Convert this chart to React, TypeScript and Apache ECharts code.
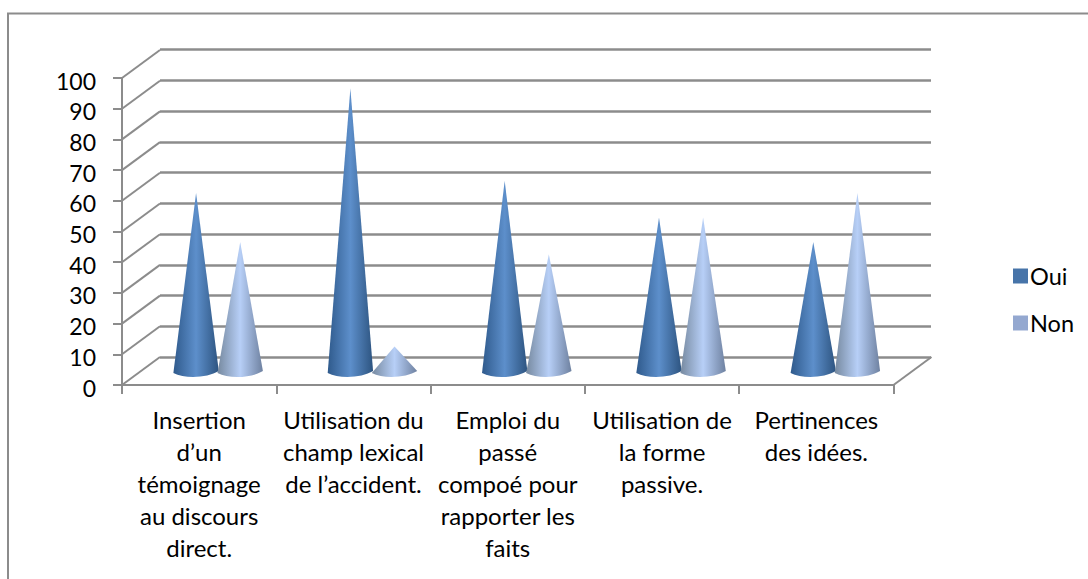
import React, { useEffect, useRef } from "react";
import * as echarts from "echarts";

const categories = [
  "Insertion\nd’un\ntémoignage\nau discours\ndirect.",
  "Utilisation du\nchamp lexical\nde l’accident.",
  "Emploi du\npassé\ncompoé pour\nrapporter les\nfaits",
  "Utilisation de\nla forme\npassive.",
  "Pertinences\ndes idées.",
];
const oui = [58, 92, 62, 50, 42];
const non = [42, 8, 38, 50, 58];
const yTicks = [0, 10, 20, 30, 40, 50, 60, 70, 80, 90, 100];

const FONT = "Lato";
const GREY = "#8c8c8c";
const DEPTH_X = 38;
const DEPTH_Y = 28;

const coneGradient = (edgeL: string, mid: string, edgeR: string) =>
  new echarts.graphic.LinearGradient(0, 0, 1, 0, [
    { offset: 0, color: edgeL },
    { offset: 0.5, color: mid },
    { offset: 1, color: edgeR },
  ]);

const coneSeries = (name: string, values: number[], side: number, legendColor: string, fill: any) => ({
  name,
  type: "custom",
  xAxisIndex: 0,
  yAxisIndex: 0,
  z: 5,
  itemStyle: { color: legendColor },
  encode: { x: 0, y: 1 },
  data: values.map((v, i) => [i, v]),
  renderItem: (_p: any, api: any) => {
    const band = api.size([1, 0])[0];
    const base = api.coord([api.value(0), 0]);
    const top = api.coord([api.value(0), api.value(1)]);
    const cx = base[0] + DEPTH_X / 2 + side * band * 0.143;
    const by = base[1] - DEPTH_Y / 2 + 1;
    const tipY = top[1] - DEPTH_Y / 2;
    const r = band * 0.147;
    const d = `M${cx} ${tipY}L${cx - r} ${by + 1}C${cx - r * 0.5} ${by + 7} ${cx + r * 0.5} ${by + 6} ${cx + r} ${by - 1}Z`;
    return { type: "path", shape: { pathData: d }, style: { fill } };
  },
});

export default function App() {
  const ref = useRef<HTMLDivElement>(null);
  useEffect(() => {
    const chart = echarts.init(ref.current!, null, { renderer: "svg" });
    chart.setOption({
      animation: false,
      backgroundColor: "#ffffff",
      textStyle: { fontFamily: FONT },
      graphic: [
        {
          type: "rect",
          z: 0,
          shape: { x: 8, y: 13.5, width: 1200, height: 700 },
          style: { fill: "none", stroke: GREY, lineWidth: 2 },
        },
      ],
      grid: [
        { left: 122, top: 78, width: 771.5, height: 307 },
        { left: 160, top: 49.5, width: 771, height: 307.5 },
      ],
      xAxis: [
        {
          type: "category",
          gridIndex: 0,
          data: categories,
          axisLine: { show: true, lineStyle: { color: GREY, width: 2 } },
          axisTick: { show: true, length: 9, alignWithLabel: false, lineStyle: { color: GREY, width: 2 } },
          axisLabel: { interval: 0, margin: 18, fontSize: 24, lineHeight: 32, color: "#000", fontFamily: FONT },
          splitLine: { show: false },
        },
        { type: "value", gridIndex: 1, show: false, min: 0, max: 1 },
      ],
      yAxis: [
        {
          type: "value",
          gridIndex: 0,
          min: 0,
          max: 100,
          interval: 10,
          axisLine: { show: true, lineStyle: { color: GREY, width: 2 } },
          axisTick: { show: true, length: 9, lineStyle: { color: GREY, width: 2 } },
          axisLabel: {
            fontSize: 23,
            margin: 26,
            color: "#000",
            fontFamily: FONT,
            verticalAlign: "top",
            padding: [-9, 0, 0, 0],
          },
          splitLine: { show: false },
        },
        {
          type: "value",
          gridIndex: 1,
          min: 0,
          max: 100,
          interval: 10,
          axisLine: { show: false },
          axisTick: { show: false },
          axisLabel: { show: false },
          splitLine: { show: true, lineStyle: { color: GREY, width: 2.5 } },
        },
      ],
      legend: {
        data: ["Oui", "Non"],
        orient: "vertical",
        left: 1008,
        top: 259,
        itemWidth: 15,
        itemHeight: 15,
        itemGap: 23,
        icon: "rect",
        textStyle: { fontSize: 23.5, color: "#000", fontFamily: FONT, padding: [0, 0, 0, -3] },
      },
      series: [
        {
          name: "walls",
          type: "custom",
          xAxisIndex: 0,
          yAxisIndex: 0,
          z: 1,
          silent: true,
          encode: { y: 0 },
          data: yTicks.map((v) => [v]),
          renderItem: (params: any, api: any) => {
            const y = api.coord([0, api.value(0)])[1];
            const x = params.coordSys.x;
            const style = { stroke: GREY, lineWidth: 2, fill: "none" };
            const children: any[] = [
              { type: "line", shape: { x1: x, y1: y, x2: x + DEPTH_X, y2: y - DEPTH_Y }, style },
            ];
            if (params.dataIndex === 0) {
              const xr = x + params.coordSys.width;
              children.push({ type: "line", shape: { x1: xr, y1: y, x2: xr + DEPTH_X, y2: y - DEPTH_Y }, style });
            }
            return { type: "group", children };
          },
        },
        coneSeries("Oui", oui, -1, "#4774a9", coneGradient("#2f5a8c", "#5d8fcb", "#2d5480")),
        coneSeries("Non", non, 1, "#94a8d0", coneGradient("#76899f", "#b7cff7", "#6e81a0")),
      ],
    });
    return () => chart.dispose();
  }, []);
  return <div ref={ref} style={{ position: "fixed", left: 0, top: 0, width: 1088, height: 579 }} />;
}
